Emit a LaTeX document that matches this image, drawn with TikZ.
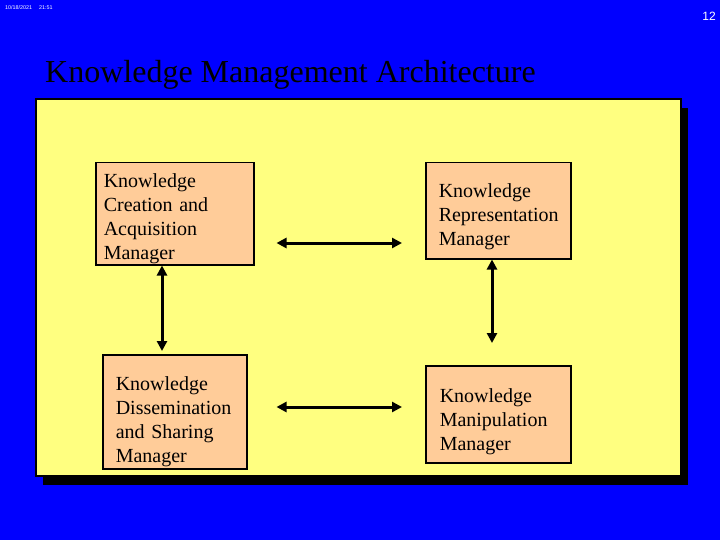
\documentclass[tikz,border=0pt]{standalone}
\usepackage{fontspec}
\setmainfont{Liberation Serif}
\setsansfont{Liberation Sans}
\usetikzlibrary{positioning}
\usetikzlibrary{arrows.meta}

\definecolor{slideblue}{RGB}{0,0,255}
\definecolor{panelyellow}{RGB}{255,255,128}
\definecolor{boxorange}{RGB}{255,204,153}

\newcommand{\toppad}[1]{\rule{0pt}{#1}}

\tikzset{
mgr/.style={draw=black, line width=1.5pt, fill=boxorange, anchor=north west,
  align=left, inner ysep=0pt, font=\fontsize{20}{24}\selectfont},
link/.style={line width=3pt,
  {Triangle[length=10pt,width=10pt]}-{Triangle[length=10pt,width=10pt]}}
}

\begin{document}
\begin{tikzpicture}[x=1pt,y=-1pt]
\fill[slideblue] (0,0) rectangle (720,540);
\node[anchor=north west, inner sep=0pt, text=white,
  font=\sffamily\fontsize{5.4}{6}\selectfont] (stamp) at (5,5) {10/18/2021\hspace{7pt}21:51};
\node[anchor=base east, inner sep=0pt, text=white,
  font=\sffamily\fontsize{12}{14}\selectfont] (pageno) at (716,21) {12};
\node[anchor=base west, inner sep=0pt,
  font=\fontsize{32}{38}\selectfont] (title) at (45,83) {Knowledge Management Architecture};
\fill[black] (43,108) rectangle (688,485);
\draw[line width=2pt, fill=panelyellow] (36,99) rectangle (681,476);
\node[mgr, inner xsep=8pt, text width=142pt, minimum height=102pt] (create) at (95,162)
  {\toppad{24pt}Knowledge\\Creation and\\Acquisition\\Manager};
\node[mgr, inner xsep=13pt, text width=119pt, minimum height=96pt] (repr) at (425,162)
  {\toppad{26pt}Knowledge\\Representation\\Manager};
\node[mgr, inner xsep=13pt, text width=118pt, minimum height=114pt] (dissem) at (102,354)
  {\toppad{34pt}Knowledge\\Dissemination\\and Sharing\\Manager};
\node[mgr, inner xsep=14pt, text width=117pt, minimum height=97pt] (manip) at (425,365)
  {\toppad{28pt}Knowledge\\Manipulation\\Manager};
\coordinate (row1) at (0,243);
\coordinate (row2) at (0,407);
\coordinate (col1) at (162,0);
\coordinate (col2) at (492,0);
\draw[link, shorten <=22pt, shorten >=23pt] (create.east |- row1) -- (repr.west |- row1);
\draw[link, shorten <=29pt, shorten >=23pt] (dissem.east |- row2) -- (manip.west |- row2);
\draw[link, shorten >=3pt] (create.south -| col1) -- (dissem.north -| col1);
\draw[link, shorten >=22pt] (repr.south -| col2) -- (manip.north -| col2);
\end{tikzpicture}
\end{document}
